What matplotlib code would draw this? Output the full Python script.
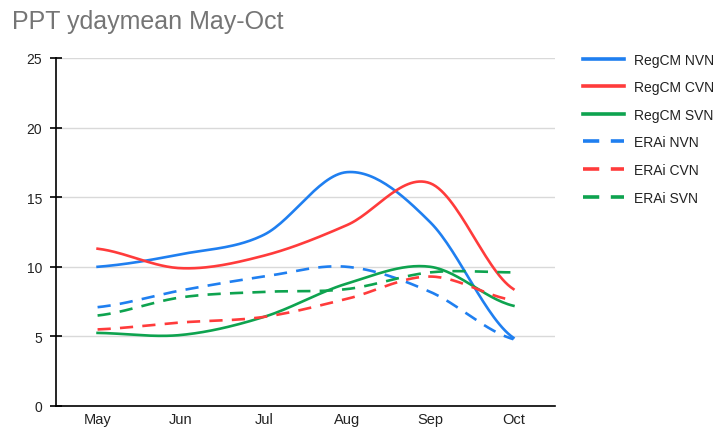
import numpy as np
import matplotlib
matplotlib.use("Agg")
from matplotlib import pyplot as plt
from matplotlib.lines import Line2D

plt.rcParams['font.family'] = ['Liberation Sans', 'DejaVu Sans']

months = ["May", "Jun", "Jul", "Aug", "Sep", "Oct"]

regcm_nvn = [10.0, 10.9, 12.3, 16.8, 13.2, 4.9]
regcm_cvn = [11.3, 9.9, 10.8, 13.0, 16.0, 8.4]
regcm_svn = [5.25, 5.1, 6.4, 8.8, 10.0, 7.2]
erai_nvn = [7.1, 8.3, 9.3, 10.0, 8.2, 4.8]
erai_cvn = [5.5, 6.0, 6.4, 7.7, 9.3, 7.6]
erai_svn = [6.5, 7.8, 8.2, 8.4, 9.6, 9.6]

series = [
    ("RegCM NVN", regcm_nvn, "#1f7ff0", "-"),
    ("RegCM CVN", regcm_cvn, "#ff3b3b", "-"),
    ("RegCM SVN", regcm_svn, "#0ea34f", "-"),
    ("ERAi NVN", erai_nvn, "#1f7ff0", "--"),
    ("ERAi CVN", erai_cvn, "#ff3b3b", "--"),
    ("ERAi SVN", erai_svn, "#0ea34f", "--"),
]


def smooth(x, y, n=30):
    # catmull-rom style curve through the points (for drawing only)
    x = np.asarray(x, float)
    y = np.asarray(y, float)
    px = np.concatenate([[2 * x[0] - x[1]], x, [2 * x[-1] - x[-2]]])
    py = np.concatenate([[y[0]], y, [y[-1]]])
    xs, ys = [], []
    for i in range(1, len(px) - 2):
        t = np.linspace(0, 1, n, endpoint=False)
        for arr, out in ((px, xs), (py, ys)):
            p0, p1, p2, p3 = arr[i - 1], arr[i], arr[i + 1], arr[i + 2]
            out.extend(0.5 * ((2 * p1) + (-p0 + p2) * t
                              + (2 * p0 - 5 * p1 + 4 * p2 - p3) * t ** 2
                              + (-p0 + 3 * p1 - 3 * p2 + p3) * t ** 3))
    xs.append(x[-1])
    ys.append(y[-1])
    return np.array(xs), np.array(ys)


fig = plt.figure(figsize=(7.23, 4.31), dpi=100)
ax = fig.add_axes([56 / 723, 24 / 431, 499 / 723, 348 / 431])

xpos = np.arange(len(months))
handles = []
for name, vals, col, ls in series:
    sx, sy = smooth(xpos, vals)
    if ls == "--":
        ax.plot(sx, sy, color=col, lw=1.9, dashes=(5, 3.5))
        h = Line2D([], [], color=col, lw=2.6, dashes=(4.5, 3.2))
    else:
        ax.plot(sx, sy, color=col, lw=1.9)
        h = Line2D([], [], color=col, lw=2.6)
    handles.append(h)

ax.set_xlim(-0.5, 5.5)
ax.set_ylim(0, 25)
ax.set_xticks(xpos)
ax.set_xticklabels(months, fontsize=10.5, color="#222222")
ax.set_yticks(range(0, 26, 5))
ax.tick_params(axis="y", labelsize=10, labelcolor="#222222", length=8,
               direction="inout", width=1.2, pad=6)
ax.tick_params(axis="x", length=0, pad=4)
ax.grid(axis="y", color="#d9d9d9", lw=1)
ax.set_axisbelow(True)
for s in ["top", "right"]:
    ax.spines[s].set_visible(False)
ax.spines["left"].set_linewidth(1.2)
ax.spines["bottom"].set_linewidth(1.2)

fig.text(12 / 723, 1 - 22 / 431, "PPT ydaymean May-Oct", fontsize=18,
         color="#757575", va="center", ha="left")

fig.legend(handles, [s[0] for s in series], loc="upper left",
           bbox_to_anchor=(570 / 723, 1 - 41 / 431), frameon=False,
           fontsize=10, handlelength=3.0, handletextpad=0.7,
           labelspacing=0.98, labelcolor="#222222")

fig.savefig("out.png", dpi=100)
